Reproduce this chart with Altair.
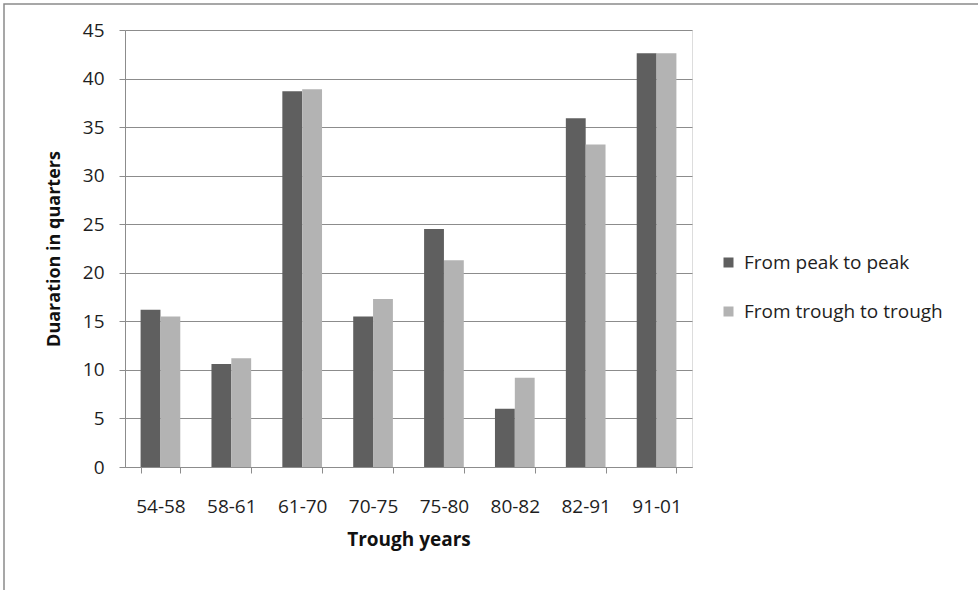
import altair as alt
import pandas as pd

# Business-cycle durations (quarters) by trough period
periods = ["54-58", "58-61", "61-70", "70-75", "75-80", "80-82", "82-91", "91-01"]
peak_to_peak = [16.2, 10.6, 38.7, 15.5, 24.5, 6.0, 35.9, 42.6]
trough_to_trough = [15.5, 11.2, 38.9, 17.3, 21.3, 9.2, 33.2, 42.6]
series_names = ["From peak to peak", "From trough to trough"]
series_colors = ["#5f5f5f", "#b3b3b3"]

rows = []
for i, p in enumerate(periods):
    rows.append({"period": p, "series": series_names[0], "value": peak_to_peak[i]})
    rows.append({"period": p, "series": series_names[1], "value": trough_to_trough[i]})
df = pd.DataFrame(rows)

FONT = "Open Sans"
GRID = "#8c8c8c"
TEXT = "#1e1e1e"

bars = alt.Chart(df).mark_bar(strokeWidth=0).encode(
    x=alt.X(
        "period:N",
        sort=periods,
        title="Trough years",
        scale=alt.Scale(paddingInner=0.44, paddingOuter=0.22),
        axis=alt.Axis(
            labelAngle=0,
            tickBand="extent",
            tickSize=6,
            tickColor=GRID,
            domainColor=GRID,
            labelPadding=24,
            labelFontSize=19,
            labelColor=TEXT,
            titleFontSize=19,
            titleFontWeight="bold",
            titleColor="#111111",
            titlePadding=14,
            grid=False,
        ),
    ),
    xOffset=alt.XOffset("series:N", sort=series_names),
    y=alt.Y(
        "value:Q",
        title="Duaration in quarters",
        scale=alt.Scale(domain=[0, 45], nice=False),
        axis=alt.Axis(
            values=list(range(0, 50, 5)),
            tickSize=6,
            tickColor=GRID,
            domainColor=GRID,
            gridColor=GRID,
            gridWidth=1.2,
            labelPadding=15,
            labelFontSize=19,
            labelColor=TEXT,
            titleFontSize=18,
            titleFontWeight="bold",
            titleColor="#111111",
            titlePadding=19,
        ),
    ),
    color=alt.Color(
        "series:N",
        sort=series_names,
        scale=alt.Scale(domain=series_names, range=series_colors),
        legend=alt.Legend(
            title=None,
            orient="none",
            legendX=594,
            legendY=223,
            symbolType="square",
            symbolSize=100,
            symbolStrokeWidth=0,
            labelFontSize=19,
            labelColor=TEXT,
            labelLimit=300,
            rowPadding=29,
            labelOffset=6,
        ),
    ),
)

# Outer frame around the whole figure
frame = alt.Chart(pd.DataFrame({"k": [0]})).mark_rect(
    fill=None, stroke="#8a8a8a", strokeWidth=1.5, clip=False
).encode(
    x=alt.value(-121),
    x2=alt.value(900),
    y=alt.value(-26),
    y2=alt.value(600),
)

chart = alt.layer(bars, frame).properties(
    width=567,
    height=437,
    padding={"left": 125, "top": 30, "right": 286, "bottom": 123},
    autosize=alt.AutoSizeParams(type="none"),
    background="white",
).configure_view(stroke=None).configure(font=FONT)

chart.save("out.html", embed_options={"renderer": "svg", "actions": False})
